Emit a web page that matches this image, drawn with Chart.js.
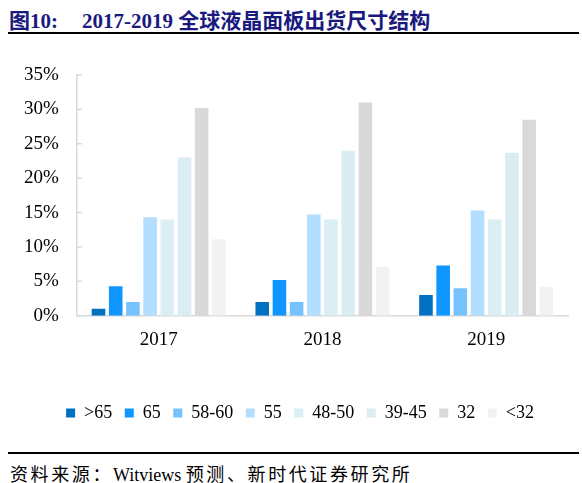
<!DOCTYPE html>
<html>
<head>
<meta charset="utf-8">
<script src="https://cdn.jsdelivr.net/npm/chart.js@4.4.0/dist/chart.umd.min.js"></script>
<style>
    body { margin: 0; background: #fff; width: 582px; height: 483px; position: relative; overflow: hidden; }
    #title { position: absolute; left: 9px; top: 4px; line-height: 21px; font: bold 21px "Liberation Serif", "Noto Sans CJK SC"; color: #1a1a7e; white-space: nowrap; }
    #title .main { margin-left: 24px; }
    .rule { position: absolute; left: 8px; width: 571px; height: 2px; background: #000; }
    #src { position: absolute; left: 10px; top: 460px; line-height: 18px; font: 18px "Liberation Serif", "Noto Sans CJK SC"; color: #000; white-space: nowrap; }
    #src .cjk { letter-spacing: 2.6px; }
    #wrap { position: absolute; left: 0; top: 40px; width: 582px; height: 400px; }
</style>
</head>
<body>
<div id="title">图10:<span class="main">2017-2019 全球液晶面板出货尺寸结构</span></div>
<div class="rule" style="top:32px"></div>
<div id="wrap"><canvas id="sizeChart"></canvas></div>
<div class="rule" style="top:452px"></div>
<div id="src"><span class="cjk">资料来源：</span>Witviews <span class="cjk">预测、新时代证券研究所</span></div>
<script>
// Data (percent of shipments)
const years = ['2017', '2018', '2019'];
const sizeLabels = ['>65', '65', '58-60', '55', '48-50', '39-45', '32', '<32'];
const above65 = [1.0, 2.0, 3.0];
const inch65 = [4.3, 5.2, 7.3];
const inch58to60 = [2.0, 2.0, 4.0];
const inch55 = [14.3, 14.7, 15.3];
const inch48to50 = [14.0, 14.0, 14.0];
const inch39to45 = [23.0, 24.0, 23.7];
const inch32 = [30.2, 31.0, 28.5];
const below32 = [11.1, 7.1, 4.2];
const yTicks = [0, 5, 10, 15, 20, 25, 30, 35];

const seriesValues = [above65, inch65, inch58to60, inch55, inch48to50, inch39to45, inch32, below32];
const seriesColors = ['#0070c0', '#0f96ff', '#75c2ff', '#b3deff', '#dbeef4', '#daedf3', '#d9d9d9', '#f2f2f2'];

// small tick marks pointing into the plot, like the original
const innerTicks = {
    id: 'innerTicks',
    afterDatasetsDraw(chart) {
        const y = chart.scales.y;
        const ctx = chart.ctx;
        ctx.save();
        ctx.strokeStyle = '#d9d9d9';
        ctx.lineWidth = 1.5;
        y.ticks.forEach((t, i) => {
            const py = y.getPixelForTick(i);
            ctx.beginPath();
            ctx.moveTo(y.right, py);
            ctx.lineTo(y.right + 5, py);
            ctx.stroke();
        });
        ctx.restore();
    }
};

// legend sits a bit right of centre in the original
const legendShift = {
    id: 'legendShift',
    afterLayout(chart) {
        chart.legend.left += 13;
        chart.legend.right += 13;
    }
};

const serif = 'Liberation Serif';

new Chart(document.getElementById('sizeChart').getContext('2d'), {
    type: 'bar',
    data: {
        labels: years,
        datasets: sizeLabels.map((name, i) => ({
            label: name,
            data: seriesValues[i],
            backgroundColor: seriesColors[i],
            borderWidth: 0,
            categoryPercentage: 0.84,
            barPercentage: 0.79
        }))
    },
    options: {
        responsive: true,
        maintainAspectRatio: false,
        animation: false,
        layout: { padding: { top: 35, right: 14, bottom: 8, left: 6 } },
        plugins: {
            tooltip: { enabled: false },
            legend: {
                position: 'bottom',
                labels: {
                    boxWidth: 9,
                    boxHeight: 9,
                    padding: 12.5,
                    color: '#000',
                    font: { family: serif, size: 18 }
                }
            }
        },
        scales: {
            x: {
                grid: { display: false, drawTicks: false },
                border: { color: '#d9d9d9', width: 1.5 },
                ticks: { color: '#000', padding: 13, font: { family: serif, size: 19 } },
                afterFit(scale) { scale.height += 27; }
            },
            y: {
                min: 0,
                max: 35,
                afterBuildTicks(scale) { scale.ticks = yTicks.map(v => ({ value: v })); },
                grid: { display: false, drawTicks: false },
                border: { color: '#d9d9d9', width: 1.5 },
                ticks: {
                    color: '#000',
                    padding: 18,
                    font: { family: serif, size: 19 },
                    callback: v => v + '%'
                }
            }
        }
    },
    plugins: [innerTicks, legendShift]
});
</script>
</body>
</html>
